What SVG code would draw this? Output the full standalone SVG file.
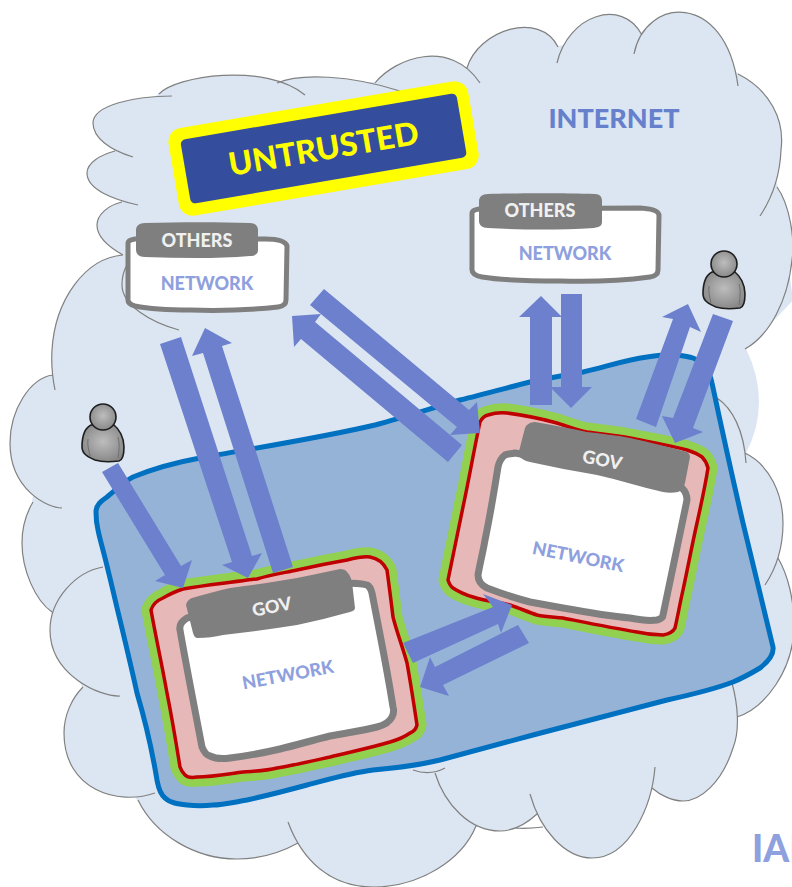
<svg xmlns="http://www.w3.org/2000/svg" width="792" height="887" viewBox="0 0 792 887">
<style>
text{font-family:"Lato","Open Sans","Liberation Sans",sans-serif;font-weight:900;text-anchor:middle}
.net{fill:#8EA0DE;font-size:18px}
.tag{fill:#F0F0F0;font-size:18px}
.box{fill:#fff;stroke:#7F7F7F;stroke-width:5;stroke-linejoin:round}
.inner{fill:#fff;stroke:#7F7F7F;stroke-width:7;stroke-linejoin:round}
.tab{fill:#7F7F7F}
.halo{fill:none;stroke:#92D050;stroke-width:19;stroke-linejoin:round}
.zone{fill:#E6B9B8;stroke:#C00000;stroke-width:3.5;stroke-linejoin:round}
.arrow{fill:#6C80CE}
</style>
<defs>
<radialGradient id="pg" cx="50%" cy="45%" r="60%"><stop offset="0" stop-color="#BDBDBD"/><stop offset="1" stop-color="#858585"/></radialGradient>
<g id="person">
<path d="M-12,8C-18,11 -21,18 -21,30C-21,37 -15,40 -8,43C-2,45 8,45 16,44C20,43 21,38 21,30C21,20 16,12 11,8Z" fill="url(#pg)" stroke="#1E1E1E" stroke-width="1.6"/>
<path d="M-15,22C-16,28 -14,34 -13,39M15,20C17,27 16,34 15,41" fill="none" stroke="#6E6E6E" stroke-width="1"/>
<circle cx="0" cy="0" r="13" fill="url(#pg)" stroke="#1E1E1E" stroke-width="1.6"/>
</g>
</defs>

<g id="internet-cloud">
<path fill="#DCE6F2" stroke="#DCE6F2" stroke-width="2" d="M159,94L277,83L375,83L467,68L558,47L642,35L738,74L777,187L792,300L745,349Q771,402 745,453L778,558L737,717L652,788L537,814L476,826L298,843L138,800L83,687L52,612L33,502L53,375L123,255L122,202L115,151Z"/>
<path fill="#DCE6F2" stroke="#808080" stroke-width="1.2" d="M159,94C175,76 265,62 305,95
M277,83C300,73 350,75 400,91
M375,83C395,58 450,38 480,83
M467,68C478,30 540,10 558,47
M557,63C568,15 622,-3 642,35
M634,54C645,-3 725,-10 738,86
M738,74C770,90 785,120 781,150C780,175 772,198 760,216
M777,187C790,205 795,240 792,260C788,300 770,335 745,349
M717,398C732,408 744,430 746,463
M745,453C770,465 783,495 783,523C783,548 775,570 765,585
M778,558C788,575 794,600 794,625C794,670 765,708 737,717
M732,683C738,705 740,730 733,748C722,783 700,801 683,801C672,801 660,795 652,788
M655,767C652,805 630,858 592,858C565,858 540,830 530,794
M537,814C525,825 512,831 500,831C470,831 445,805 435,773
M543,827C535,828 525,829 515,828
M445,768Q430,776 413,770
M476,826C462,860 420,887 373,887C330,887 302,860 288,822
M298,843C280,853 258,859 237,859C195,859 155,835 138,800
M155,793C118,806 64,790 64,733C64,715 72,698 83,687
M120,696C100,697 50,675 50,630C50,600 75,572 103,567
M52,612C35,600 22,570 22,543C22,525 27,512 33,502
M62,508C48,508 10,490 10,443C10,410 30,378 53,375
M55,390C52,375 51,365 52,350C55,300 85,258 123,255
M179,330C150,322 122,305 122,285C122,275 124,265 135,255
M123,255C105,245 97,235 97,225C97,215 108,205 122,202
M138,205C115,200 87,190 87,173C87,163 100,155 115,151
M133,157C110,150 93,138 93,123C93,105 135,96 172,96"/>
<path fill="#95B3D7" stroke="#0070C0" stroke-width="5" stroke-linejoin="round" d="M96,512C96,505 101,501 107,497C118,488 125,481 133,477C155,468 178,462 200,458C255,448 320,438 375,425C405,417 432,408 460,400C485,394 510,387 530,382C550,378 565,375 583,372C605,367 625,360 647,357C660,355 668,354 677,355C685,356 690,357 693,358C703,362 710,372 712,383C722,430 733,480 743,523C753,565 763,605 773,647C774,654 769,661 760,668C750,674 745,677 733,682C712,690 690,695 667,700C620,712 575,724 533,735C500,744 470,752 440,760C415,766 395,768 373,770C350,773 330,779 307,785C285,791 265,796 247,800C230,803 222,805 213,805C205,806 195,806 187,805C178,804 170,803 165,798C159,793 158,785 157,780C152,750 145,720 137,693C132,670 126,645 120,620C115,600 113,590 108,570C104,553 100,540 98,530C96,522 96,518 96,512Z"/>
</g>

<g id="gov-network-1">
<path class="halo" d="M151,610C153,604 158,600 163,598C170,594 176,591 183,589C205,585 227,583 247,580L257,579C270,575 283,573 297,570C315,566 330,563 347,560C355,558 363,556 370,557C376,558 383,562 387,570C389,585 391,600 393,617C397,633 403,648 407,663C411,685 414,705 417,725C416,729 413,732 410,733C403,738 397,740 390,742C370,748 350,752 330,757C312,761 295,765 277,768C265,771 255,771 243,772C228,774 212,777 197,777C191,778 187,777 185,775C182,772 181,770 180,767C176,742 172,718 167,693C162,665 156,638 151,610Z"/>
<path class="zone" d="M151,610C153,604 158,600 163,598C170,594 176,591 183,589C205,585 227,583 247,580L257,579C270,575 283,573 297,570C315,566 330,563 347,560C355,558 363,556 370,557C376,558 383,562 387,570C389,585 391,600 393,617C397,633 403,648 407,663C411,685 414,705 417,725C416,729 413,732 410,733C403,738 397,740 390,742C370,748 350,752 330,757C312,761 295,765 277,768C265,771 255,771 243,772C228,774 212,777 197,777C191,778 187,777 185,775C182,772 181,770 180,767C176,742 172,718 167,693C162,665 156,638 151,610Z"/>
<path class="inner" d="M187,618C182,621 179,625 180,630C187,670 195,710 202,747C204,752 206,755 210,756C216,759 223,759 230,758C247,756 263,753 280,749C297,745 313,740 330,736C345,733 362,731 377,727C385,725 390,721 392,717C394,713 394,710 393,707C387,668 379,630 372,593C371,589 369,586 367,585C360,583 350,583 343,583Z"/>
<path class="tab" d="M186,605C187,601 189,599 192,598C205,594 217,591 230,588C252,585 275,582 297,578C312,575 326,572 340,569C343,569 346,570 347,572C350,575 351,578 352,582L355,608C355,610 353,611 350,612C332,617 315,621 297,625C272,629 248,632 223,635C215,637 206,638 198,638C195,638 194,636 193,633Z"/>
<text class="tag" transform="translate(273,613) rotate(-11)">GOV</text>
<text class="net" transform="translate(289,681) rotate(-10.5)">NETWORK</text>
</g>

<g id="gov-network-2">
<path class="halo" d="M480,422C482,418 484,416 488,415C494,413 500,412 507,413C522,415 538,418 553,422C565,425 575,430 587,432C602,434 616,435 630,438C650,442 668,445 687,450C693,452 698,454 702,457C705,460 707,464 708,468C705,487 701,505 697,523C692,545 688,567 683,590C680,603 678,615 675,628C673,632 669,634 663,635C655,635 646,634 637,632C612,628 588,623 563,618C554,617 546,617 537,615C528,612 519,608 510,605C498,602 485,601 473,597C466,595 459,592 453,588C450,586 449,583 448,580C453,556 458,531 463,507C469,479 474,450 480,422Z"/>
<path class="zone" d="M480,422C482,418 484,416 488,415C494,413 500,412 507,413C522,415 538,418 553,422C565,425 575,430 587,432C602,434 616,435 630,438C650,442 668,445 687,450C693,452 698,454 702,457C705,460 707,464 708,468C705,487 701,505 697,523C692,545 688,567 683,590C680,603 678,615 675,628C673,632 669,634 663,635C655,635 646,634 637,632C612,628 588,623 563,618C554,617 546,617 537,615C528,612 519,608 510,605C498,602 485,601 473,597C466,595 459,592 453,588C450,586 449,583 448,580C453,556 458,531 463,507C469,479 474,450 480,422Z"/>
<path class="inner" d="M515,453C510,454 507,454 505,455C501,458 499,462 498,467C494,492 490,516 485,540C483,552 480,563 478,575C478,580 481,585 487,588C500,593 515,598 530,602C541,604 552,606 563,608C585,612 608,616 630,618C640,620 650,621 657,620C661,619 663,617 663,615C671,577 679,538 687,500C687,495 685,491 682,488L672,480Z"/>
<path class="tab" d="M525,428C526,425 530,422 535,422C552,425 570,428 587,432C602,434 616,435 630,438C650,442 668,447 687,452C689,453 690,455 690,457L685,483C684,487 681,491 678,492C673,493 668,493 663,492C641,487 619,480 597,475C575,471 552,467 530,462C525,461 520,458 518,455Z"/>
<text class="tag" transform="translate(601,466) rotate(11)">GOV</text>
<text class="net" transform="translate(577,563) rotate(11.5)">NETWORK</text>
</g>

<g id="others-network-1">
<path class="box" d="M128,243Q128,240 135,239L265,239Q285,239 287,246L286,300Q286,306 278,307C250,310 220,311 190,310C165,310 145,308 135,306Q127,304 128,298Z"/>
<path class="tab" d="M136,230C136,226 139,223 145,223C180,222 220,222 250,223C255,223 258,226 258,230L258,250C258,254 255,256 250,256C215,259 180,258 145,257C139,257 136,254 136,250Z"/>
<text class="tag" x="197" y="247">OTHERS</text>
<text class="net" x="207" y="290">NETWORK</text>
</g>

<g id="others-network-2">
<path class="box" d="M472,213Q472,210 479,209L640,208Q658,209 659,215L658,270Q658,276 650,277C620,281 590,282 560,281C530,281 500,280 482,277Q471,275 472,268Z"/>
<path class="tab" d="M479,201C479,197 482,194 488,194C520,193 565,193 595,194C600,194 602,197 602,201L602,222C602,226 599,227 594,228C560,230 525,230 488,228C482,228 479,225 479,221Z"/>
<text class="tag" x="540" y="217">OTHERS</text>
<text class="net" x="565" y="260">NETWORK</text>
</g>

<g id="untrusted-banner" transform="translate(323.5,148) rotate(-9.7)">
<rect x="-152" y="-44" width="304" height="89" rx="14" fill="#FFFF00"/>
<rect x="-140" y="-32" width="280" height="65" rx="5" fill="#344D9C"/>
<text y="12" fill="#FFFF00" style="font-size:32px">UNTRUSTED</text>
</g>

<g id="person-left"><use href="#person" transform="translate(103,417)"/></g>
<g id="person-right"><use href="#person" transform="translate(724,264)"/></g>

<g id="connectors">
<polygon class="arrow" points="118,463 181,566 192,560 183,588 155,581 165,575 102,472"/>
<polygon class="arrow" points="160,344 181,337 252,556 262,553 248,578 222,565 232,562"/>
<polygon class="arrow" points="205,328 232,343 222,346 293,567 273,573 203,353 192,356"/>
<polygon class="arrow" points="292,316 321,314 315,322 462,445 448,462 301,339 294,347"/>
<polygon class="arrow" points="324,289 469,410 477,402 480,433 450,435 457,427 310,305"/>
<polygon class="arrow" points="541,296 562,317 552,317 552,405 530,405 530,317 519,317"/>
<polygon class="arrow" points="561,294 582,294 582,387 592,387 571,408 550,387 561,387"/>
<polygon class="arrow" points="688,304 701,332 690,327 656,427 636,419 673,319 662,317"/>
<polygon class="arrow" points="713,314 733,321 693,428 703,432 675,443 662,416 673,418"/>
<polygon class="arrow" points="403,643 493,607 483,594 512,605 501,633 498,624 413,663"/>
<polygon class="arrow" points="518,625 529,643 443,685 449,696 420,687 430,657 435,667"/>
</g>

<text id="internet-label" x="614" y="128" fill="#6680CC" style="font-size:27px">INTERNET</text>
<text id="iai-label" x="752" y="862" fill="#8EA0DE" style="font-size:37px;text-anchor:start">IAI</text>
</svg>
